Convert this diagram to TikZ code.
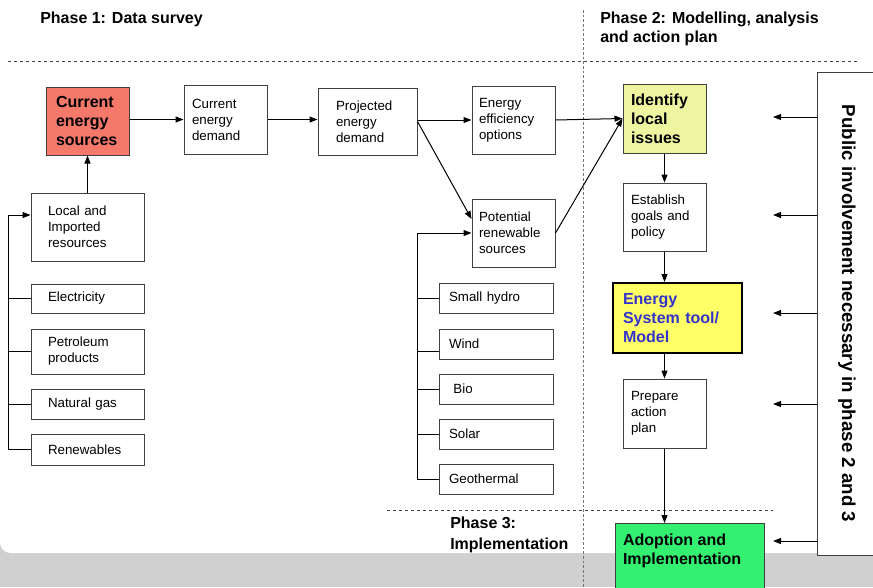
\documentclass[tikz,border=0pt]{standalone}
\usepackage{fontspec}
\setmainfont{Liberation Sans}
\usetikzlibrary{arrows.meta}
\definecolor{srcred}{RGB}{244,121,106}
\definecolor{issuegreen}{RGB}{238,245,160}
\definecolor{toolyellow}{RGB}{255,255,102}
\definecolor{toolblue}{RGB}{51,51,204}
\definecolor{adoptgreen}{RGB}{51,240,112}
\definecolor{bandgray}{RGB}{208,208,208}
\definecolor{edgegray}{RGB}{64,64,64}
\begin{document}
\begin{tikzpicture}[x=0.75pt,y=-0.75pt,
    box/.style={draw=edgegray,line width=0.75pt,fill=white,align=left,font=\fontsize{10}{12}\selectfont},
    boldbox/.style={box,font=\fontsize{12}{14.25}\selectfont\bfseries},
    smallbox/.style={box,text width=59.25pt,inner xsep=12.75pt},
    kindbox/.style={box,text width=70.5pt,inner xsep=7.5pt,minimum height=22.5pt},
    stepbox/.style={box,text width=50.25pt,inner xsep=6pt},
    phase/.style={align=left,inner sep=0pt,font=\fontsize{12}{14.25}\selectfont\bfseries},
    phaseline/.style={draw=black!75,line width=0.6pt,dash pattern=on 2.5pt off 2pt},
    arw/.style={-{Triangle[length=6pt,width=4.5pt]},line width=0.75pt},
    link/.style={line width=0.75pt}]
        \clip (0,0) rectangle (873,587);
        \fill[bandgray] (0,540) rectangle (873,587);
        \fill[white,rounded corners=8] (0,-20) rectangle (900,553);
        \draw[phaseline] (8,61) -- (860,61);
        \draw[phaseline,draw=black!55,dash pattern=on 2pt off 1.5pt] (583,10) -- (583,587);
        \draw[phaseline] (387,510) -- (773,510);
        \draw (40,19) node[phase,anchor=west](ph1){Phase 1: Data survey};
        \draw (600,28.5) node[phase,anchor=west](ph2){Phase 2: Modelling, analysis\\and action plan};
        \draw (450,534.5) node[phase,anchor=west,font=\fontsize{12}{15.75}\selectfont\bfseries](ph3){Phase 3:\\Implementation};
        \draw (87.5,121) node[boldbox,fill=srcred,text width=47.25pt,inner xsep=7.5pt,minimum height=51pt](ces){Current\\energy\\sources};
        \draw (225.5,119.5) node[stepbox,minimum height=51.75pt](ced){Current\\energy\\demand};
        \draw (367.5,121.5) node[box,text width=47.25pt,inner xsep=13.5pt,minimum height=50.25pt](ped){Projected\\energy\\demand};
        \draw (513.5,120) node[box,text width=51.75pt,inner xsep=5.25pt,minimum height=51pt](eeo){Energy\\efficiency\\options};
        \draw (513.5,233) node[box,text width=51.75pt,inner xsep=5.25pt,minimum height=51pt](prs){Potential\\renewable\\sources};
        \draw (87.5,227) node[smallbox,minimum height=51pt](lir){Local and\\Imported\\resources};
        \draw (87.5,298.5) node[smallbox,minimum height=21.75pt](elec){Electricity};
        \draw (87.5,351.5) node[smallbox,minimum height=33.75pt](petro){Petroleum\\products};
        \draw (87.5,404) node[smallbox,minimum height=22.5pt](gas){Natural gas};
        \draw (87.5,449.5) node[smallbox,minimum height=23.25pt](renew){Renewables};
        \draw (496,298) node[kindbox](hydro){Small hydro};
        \draw (496,344) node[kindbox](wind){Wind};
        \draw (496,389) node[kindbox](bio){\ Bio};
        \draw (496,434) node[kindbox](solar){Solar};
        \draw (496,479) node[kindbox](geo){Geothermal};
        \draw (664.5,118.5) node[boldbox,fill=issuegreen,text width=50.25pt,inner xsep=6pt,minimum height=51.75pt](ili){Identify\\local\\issues};
        \draw (664.5,217) node[stepbox,minimum height=51pt](egp){Establish\\goals and\\policy};
        \draw (677.5,318) node[boldbox,fill=toolyellow,text=toolblue,draw=black,line width=1.5pt,text width=81.75pt,inner xsep=7.5pt,minimum height=52.5pt](est){Energy\\System tool/\\Model};
        \draw (664.5,413.5) node[stepbox,minimum height=51.75pt](pap){Prepare\\action\\plan};
        \draw (689.5,523) node[boldbox,fill=adoptgreen,anchor=north,inner xsep=6pt,inner ysep=8pt](adi){\parbox[t][60pt][t]{99.75pt}{Adoption and\\Implementation}};
        \draw (847,313.5) node[draw=edgegray,line width=0.75pt,fill=white,rotate=-90,minimum width=362.25pt,minimum height=45pt,font=\fontsize{14}{16}\selectfont\bfseries](pub){Public involvement necessary in phase 2 and 3};
        \coordinate (lbus) at (8,0);
        \coordinate (rbus) at (417,0);
        \coordinate (pa1) at (773,117);
        \coordinate (pa2) at (773,215);
        \coordinate (pa3) at (773,313);
        \coordinate (pa4) at (773,404);
        \coordinate (pa5) at (773,541);
        \draw[link]
          (elec.west) -- (elec.west -| lbus)
          (petro.west) -- (petro.west -| lbus)
          (gas.west) -- (gas.west -| lbus)
          (hydro.west) -- (hydro.west -| rbus)
          ([yshift=-5.75pt]wind.west) -- ([yshift=-5.75pt]wind.west -| rbus)
          (bio.west) -- (bio.west -| rbus)
          (solar.west) -- (solar.west -| rbus)
        ;
        \draw[arw] (renew.west) -- (renew.west -| lbus) |- ([yshift=9pt]lir.west);
        \draw[arw] (geo.west) -- (geo.west -| rbus) |- (prs.west);
        \draw[arw] (lir.north) -- (ces.south);
        \draw[arw] (ced.west -| ces.east) -- (ced.west);
        \draw[arw] (ced.east) -- (ced.east -| ped.west);
        \draw[arw] (ped.east |- eeo.west) -- (eeo.west);
        \draw[arw] (ped.east) -- ([yshift=10.5pt]prs.west);
        \draw[arw] (eeo.east) -- (ili.west);
        \draw[arw] (prs.east) -- (ili.west);
        \draw[arw] (ili.south) -- (egp.north);
        \draw[arw] (egp.south) -- (egp.south |- est.north);
        \draw[arw] (pap.north |- est.south) -- (pap.north);
        \draw[arw] (pap.south) -- (pap.south |- adi.north);
        \draw[arw] (pub.south |- pa1) -- (pa1);
        \draw[arw] (pub.south |- pa2) -- (pa2);
        \draw[arw] (pub.south |- pa3) -- (pa3);
        \draw[arw] (pub.south |- pa4) -- (pa4);
        \draw[arw] (pub.south |- pa5) -- (pa5);
      \end{tikzpicture}
\end{document}
